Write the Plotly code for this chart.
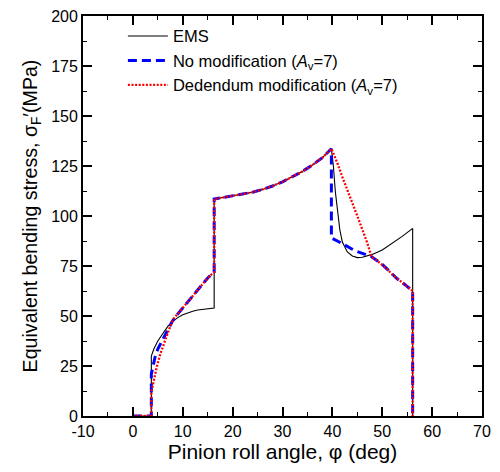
import plotly.graph_objects as go

# ---- data ----
upper_x = [18, 20, 22, 24, 26, 28, 30, 32, 34, 36, 38, 39.8]
upper_y = [109.2, 110, 110.9, 111.9, 113.3, 115.0, 117.1, 119.5, 122.3, 125.5, 129.2, 133.6]

ems_x = [0, 3.7, 3.7, 4.2, 5, 6, 7, 8, 9, 10, 11, 12, 13, 14, 15, 16.3, 16.3] + upper_x + \
        [40.2, 40.6, 41, 41.5, 42, 43, 44, 45, 46, 47, 48, 50, 52, 54, 56.1, 56.1, 56.1]
ems_y = [0, 0, 30, 33.5, 37.5, 41.5, 44.8, 47.3, 49.2, 50.6, 51.6, 52.4, 53.0, 53.4, 53.7, 54, 108.5] + upper_y + \
        [125, 112, 102, 93, 87, 82, 80, 79.2, 79.4, 80, 80.8, 83, 86.2, 89.8, 93.8, 63, 0]

nomod_x = [0, 3.7, 3.7, 4.0, 4.5, 5, 6, 7, 7.9, 9, 10, 11, 12, 13, 14, 15, 16.3, 16.3] + upper_x + \
          [39.8, 41, 42, 43, 44, 45, 46, 47, 47.8, 49, 50, 51, 52, 53, 54, 55, 56.1, 56.1]
nomod_y = [0, 0, 21, 25, 30, 33.5, 38.5, 43, 47.3, 51, 54, 57, 60, 63, 66, 69, 72, 108.5] + upper_y + \
          [89, 87.5, 86, 84.6, 83.4, 82.2, 81.2, 80.3, 79.7, 77.6, 75.8, 73.4, 70.8, 68.6, 66.8, 64.8, 62.5, 0]

ded_x = [0, 3.7, 3.7, 4.2, 4.8, 5.5, 6.5, 7.3, 8.1, 9, 10, 11, 12, 13, 14, 15, 16.3, 16.3] + upper_x + \
        [41, 42, 43, 44, 45, 46, 47, 47.8, 49, 50, 51, 52, 53, 54, 55, 56.1, 56.1]
ded_y = [0, 0, 12, 18.5, 24.7, 31, 38.5, 43.5, 48.5, 51, 54, 57, 60, 63, 66, 69, 72, 108.5] + upper_y + \
        [126.5, 119.5, 112.5, 106.5, 100, 93.5, 86.5, 80, 77.6, 75.8, 73.4, 70.8, 68.6, 66.8, 64.8, 62.5, 0]

x_ticks = [-10, 0, 10, 20, 30, 40, 50, 60, 70]
y_ticks = [0, 25, 50, 75, 100, 125, 150, 175, 200]

FONT = "Arial, Liberation Sans, sans-serif"

fig = go.Figure()
fig.add_trace(go.Scatter(x=ems_x, y=ems_y, mode="lines", name="EMS",
                         line=dict(color="black", width=1.1)))
fig.add_trace(go.Scatter(x=nomod_x, y=nomod_y, mode="lines",
                         name="No modification (<i>A</i><sub>v</sub>=7)",
                         line=dict(color="#0000ff", width=3, dash="9px,5px")))
fig.add_trace(go.Scatter(x=ded_x, y=ded_y, mode="lines",
                         name="Dedendum modification (<i>A</i><sub>v</sub>=7)",
                         line=dict(color="#ff0000", width=2.3, dash="2px,1.6px")))

axis_common = dict(showgrid=False, zeroline=False, showline=True, linecolor="black",
                   linewidth=1.8, mirror="ticks", ticks="inside", ticklen=9,
                   tickwidth=1.5, tickcolor="black", automargin=False,
                   tickfont=dict(family=FONT, size=16, color="black"))

fig.update_xaxes(range=[-10, 70], tickvals=x_ticks, ticktext=[str(v) for v in x_ticks],
                 title=dict(text="Pinion roll angle, φ (deg)", font=dict(family=FONT, size=21, color="black"),
                            standoff=2),
                 minor=dict(dtick=5, ticks="inside", ticklen=4, tickwidth=1.3, tickcolor="black"),
                 **axis_common)
fig.update_yaxes(range=[0, 200], tickvals=y_ticks, ticktext=[str(v) for v in y_ticks],
                 title=dict(text="Equivalent bending stress, σ<sub>F</sub>′(MPa)",
                            font=dict(family=FONT, size=19.6, color="black"), standoff=8),
                 minor=dict(dtick=12.5, ticks="inside", ticklen=4, tickwidth=1.3, tickcolor="black"),
                 **axis_common)

fig.update_layout(
    width=500, height=472,
    margin=dict(l=83, r=18, t=16, b=56),
    plot_bgcolor="white", paper_bgcolor="white",
    font=dict(family=FONT, color="black"),
    legend=dict(x=0.10, y=0.993, xanchor="left", yanchor="top",
                bgcolor="rgba(0,0,0,0)", font=dict(family=FONT, size=16.5, color="black"),
                itemwidth=40),
)

fig.write_html("out.html", config={"displayModeBar": False},
               post_script="document.body.style.margin='0';")
